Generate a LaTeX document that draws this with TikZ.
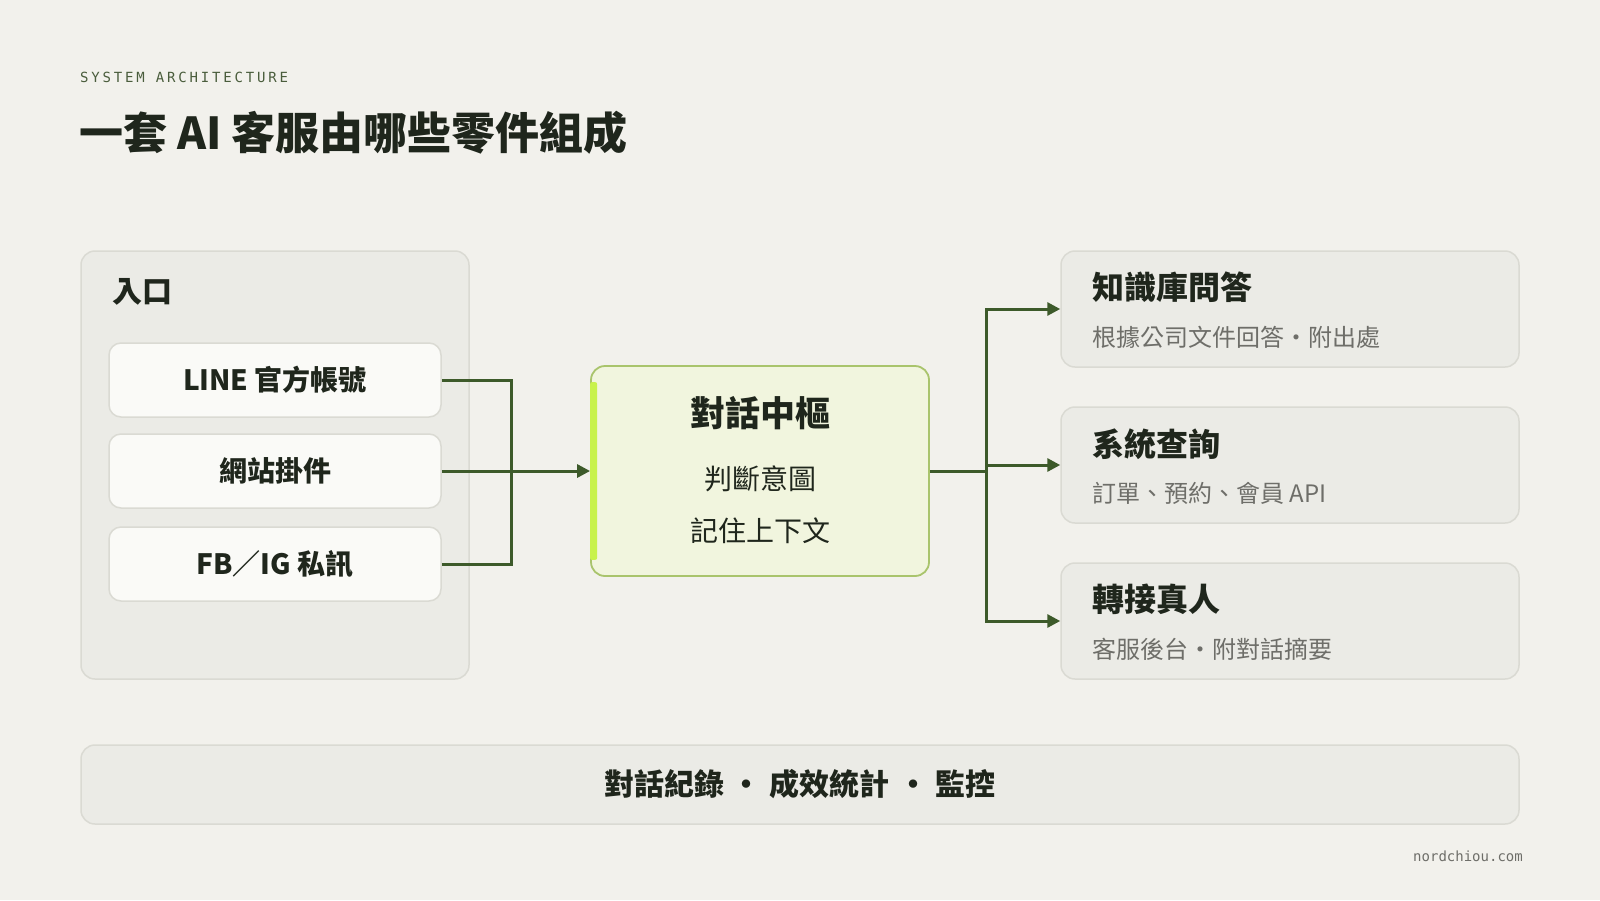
\documentclass[tikz,border=0pt]{standalone}
\usepackage{fontspec}
\setmainfont{Noto Sans CJK TC}
\newfontfamily\labelmono{DejaVu Sans Mono}[LetterSpace=20]
\newfontfamily\sitemono{DejaVu Sans Mono}
\usepackage{tikz}
\usetikzlibrary{arrows.meta, positioning}

\definecolor{paper}{HTML}{F2F1EC}
\definecolor{panelfill}{HTML}{EBEBE6}
\definecolor{panelline}{HTML}{DADAD3}
\definecolor{cardfill}{HTML}{FAFAF7}
\definecolor{hubfill}{HTML}{F1F5DE}
\definecolor{hubline}{HTML}{A9C46C}
\definecolor{hubaccent}{HTML}{C8F24C}
\definecolor{wire}{HTML}{3D5A2A}
\definecolor{ink}{HTML}{1F261C}
\definecolor{subink}{HTML}{6E6E69}
\definecolor{kicker}{HTML}{4A5D3C}

\begin{document}
\begin{tikzpicture}[
    x=1pt, y=-1pt,
    groupbox/.style={draw=panelline, fill=panelfill, line width=1.5pt, rounded corners=14pt, minimum width=388pt, minimum height=428pt, inner sep=0pt},
    sourcebox/.style={draw=panelline, fill=cardfill, line width=1.5pt, rounded corners=12pt, minimum width=332pt, minimum height=74pt, inner sep=0pt, text=ink, font=\fontsize{28}{34}\selectfont\bfseries},
    hubbox/.style={draw=hubline, fill=hubfill, line width=1.8pt, rounded corners=14pt, minimum width=338pt, minimum height=210pt, inner sep=0pt},
    servicebox/.style={draw=panelline, fill=panelfill, line width=1.5pt, rounded corners=14pt, minimum width=458pt, minimum height=116pt, inner sep=0pt},
    barbox/.style={draw=panelline, fill=panelfill, line width=1.5pt, rounded corners=14pt, minimum width=1438pt, minimum height=79pt, inner sep=0pt, text=ink, font=\fontsize{30}{36}\selectfont\bfseries},
    headtext/.style={anchor=west, inner sep=0pt, text=ink, font=\fontsize{32}{38}\selectfont\bfseries},
    subtext/.style={anchor=west, inner sep=0pt, text=subink, font=\fontsize{24}{30}\selectfont},
    conn/.style={draw=wire, line width=3pt},
    arrow/.style={conn, -{Triangle[length=13pt,width=13pt]}}
]

    \useasboundingbox[fill=paper] (0,0) rectangle (1600,900);

    % ================= HEADER =================
    \node[anchor=west, inner sep=0pt, text=kicker, font=\labelmono\fontsize{14}{16}\selectfont] (kicker) at (80,77) {SYSTEM ARCHITECTURE};
    \node[anchor=west, inner sep=0pt, text=ink, font=\fontsize{44}{50}\selectfont\bfseries] (title) at (79,133) {一套 AI 客服由哪些零件組成};

    % ================= ENTRY CHANNELS =================
    \node[groupbox] (entry) at (275,465) {};
    \node[headtext, font=\fontsize{30}{36}\selectfont\bfseries] (entrylabel) at (112,292) {入口};

    \node[sourcebox] (line) at (275,380) {LINE 官方帳號};
    \node[sourcebox] (widget) at (275,471) {網站掛件};
    \node[sourcebox] (fbig) at (275,564) {FB／IG 私訊};

    % ================= DIALOGUE HUB =================
    \node[hubbox] (hub) at (760,471) {};
    \fill[hubaccent, rounded corners=2pt] ([yshift=-17pt]hub.north west) rectangle ([xshift=7pt,yshift=17pt]hub.south west);
    \node[inner sep=0pt, text=ink, font=\fontsize{35}{42}\selectfont\bfseries] (hubtitle) at (760,413) {對話中樞};
    \node[inner sep=0pt, text=ink, align=center, font=\fontsize{28}{52}\selectfont] (hubtext) at (760,505) {判斷意圖\\記住上下文};

    \coordinate (joinl) at (511,471);
    \draw[conn] (line.east) -| (joinl);
    \draw[conn] (fbig.east) -| (joinl);
    \draw[arrow] (widget.east) -- (hub.west);

    % ================= SERVICES =================
    \node[servicebox] (kb) at (1290,309) {};
    \node[headtext] (kbtitle) at (1092,287) {知識庫問答};
    \node[subtext] (kbsub) at (1092,337) {根據公司文件回答・附出處};

    \node[servicebox] (sys) at (1290,465) {};
    \node[headtext] (systitle) at (1092,444) {系統查詢};
    \node[subtext] (syssub) at (1092,493) {訂單、預約、會員 API};

    \node[servicebox] (human) at (1290,621) {};
    \node[headtext] (humantitle) at (1092,599) {轉接真人};
    \node[subtext] (humansub) at (1092,649) {客服後台・附對話摘要};

    \coordinate (joinr) at (986,471);
    \draw[conn] (hub.east) -- (joinr);
    \draw[arrow] (joinr) |- (kb.west);
    \draw[arrow] (joinr) |- (sys.west);
    \draw[arrow] (joinr) |- (human.west);

    % ================= FOOTER =================
    \node[barbox] (ops) at (800,784.5) {對話紀錄\hspace{8pt}•\hspace{8pt}成效統計\hspace{8pt}•\hspace{8pt}監控};
    \node[anchor=east, inner sep=0pt, text=subink, font=\sitemono\fontsize{14}{16}\selectfont] (site) at (1523,856) {nordchiou.com};

\end{tikzpicture}
\end{document}
